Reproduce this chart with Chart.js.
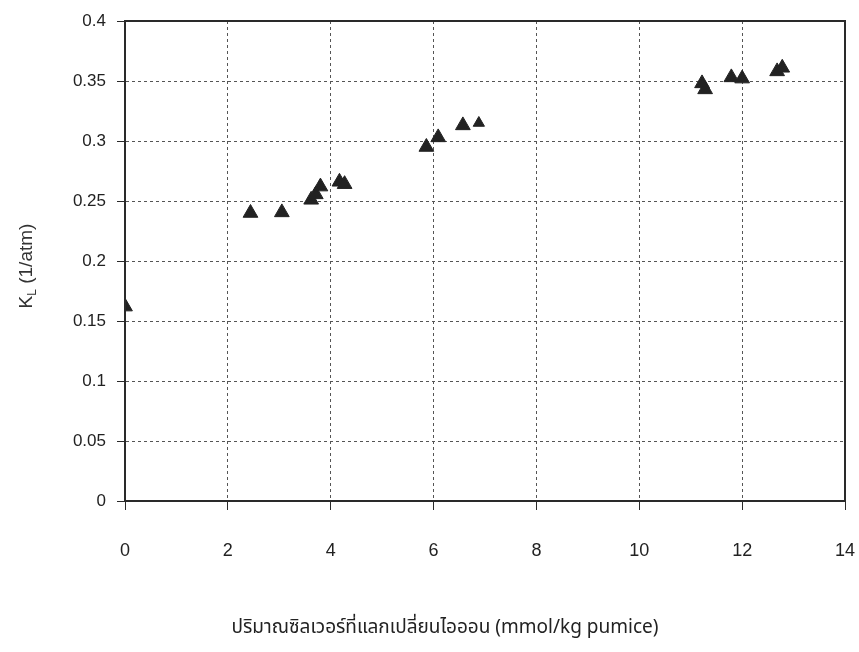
<!DOCTYPE html>
<html>
<head>
<meta charset="utf-8">
<script src="https://cdn.jsdelivr.net/npm/chart.js@4.4.1/dist/chart.umd.min.js"></script>
<style>
  body { margin: 0; background: #fff; }
  canvas { display: block; }
</style>
</head>
<body>
<canvas id="klChart" width="859" height="652"></canvas>
<script>
// silver exchanged (mmol/kg pumice) vs K_L (1/atm)
const silverLoad = [0, 2.44, 3.05, 3.62, 3.71, 3.8, 4.17, 4.27, 5.86, 6.09, 6.57, 6.88, 11.22, 11.28, 11.79, 12.0, 12.68, 12.78];
const kValues = [0.162, 0.24, 0.2405, 0.251, 0.2555, 0.262, 0.266, 0.264, 0.295, 0.303, 0.313, 0.315, 0.348, 0.343, 0.353, 0.352, 0.358, 0.361];

const xTicks = ['0', '2', '4', '6', '8', '10', '12', '14'];
const yTicks = ['0', '0.05', '0.1', '0.15', '0.2', '0.25', '0.3', '0.35', '0.4'];

const xTitle = 'ปริมาณซิลเวอร์ที่แลกเปลี่ยนไอออน (mmol/kg pumice)';

const labelFont = "'Liberation Sans Narrow', 'Liberation Sans', Arial, sans-serif";

const points = silverLoad.map((x, i) => ({ x: x, y: kValues[i] }));

// frame round the plot area plus the two axis titles
const framePlugin = {
    id: 'frame',
    afterDraw(chart) {
        const { ctx, chartArea: a } = chart;
        ctx.save();
        ctx.strokeStyle = '#2a2a2a';
        ctx.lineWidth = 2;
        ctx.strokeRect(a.left, a.top, a.right - a.left, a.bottom - a.top);

        // y title: K with subscript L
        ctx.translate(27, 266);
        ctx.rotate(-Math.PI / 2);
        ctx.fillStyle = '#333';
        ctx.textBaseline = 'middle';
        const big = "19px 'Liberation Sans', Arial, sans-serif";
        const small = "12px 'Liberation Sans', Arial, sans-serif";
        ctx.font = big;
        const wK = ctx.measureText('K').width;
        const rest = ' (1/atm)';
        const wRest = ctx.measureText(rest).width;
        ctx.font = small;
        const wL = ctx.measureText('L').width;
        let x = -(wK + wL + wRest) / 2;
        ctx.font = big;
        ctx.fillText('K', x, 0);
        x += wK;
        ctx.font = small;
        ctx.fillText('L', x, 6);
        x += wL;
        ctx.font = big;
        ctx.fillText(rest, x, 0);
        ctx.restore();

        // x title
        ctx.save();
        ctx.fillStyle = '#222';
        ctx.font = "19px 'Noto Sans Thai', 'Noto Sans', 'DejaVu Sans', sans-serif";
        ctx.textAlign = 'center';
        ctx.textBaseline = 'middle';
        ctx.fillText(xTitle, 445, 629);
        ctx.restore();
    }
};

new Chart(document.getElementById('klChart').getContext('2d'), {
    type: 'scatter',
    data: {
        datasets: [{
            data: points,
            pointStyle: 'triangle',
            pointRadius: kValues.map((v, i) => i === 11 ? 6.5 : 8.5),
            pointHoverRadius: 8.5,
            backgroundColor: '#222',
            borderColor: '#222',
            borderWidth: 1
        }]
    },
    options: {
        responsive: false,
        animation: false,
        layout: { padding: { left: 0, top: 21, right: 14, bottom: 0 } },
        plugins: {
            legend: { display: false },
            tooltip: { enabled: false }
        },
        scales: {
            x: {
                type: 'linear',
                min: 0,
                max: 14,
                afterFit(scale) {
                    scale.height = 151;
                    scale.paddingLeft = 0;
                    scale.paddingRight = 0;
                },
                ticks: {
                    stepSize: 2,
                    padding: 30,
                    color: '#222',
                    font: { family: labelFont, size: 18 },
                    callback: (v) => xTicks[Math.round(v / 2)]
                },
                grid: {
                    color: '#555',
                    lineWidth: 1,
                    tickLength: 9,
                    tickColor: '#2a2a2a',
                    tickWidth: 1
                },
                border: { display: true, color: '#2a2a2a', width: 2, dash: [3, 3] }
            },
            y: {
                type: 'linear',
                min: 0,
                max: 0.4,
                afterFit(scale) {
                    scale.width = 125;
                    scale.paddingTop = 0;
                    scale.paddingBottom = 0;
                },
                ticks: {
                    stepSize: 0.05,
                    padding: 11,
                    color: '#222',
                    font: { family: labelFont, size: 17 },
                    callback: (v) => yTicks[Math.round(v / 0.05)]
                },
                grid: {
                    color: '#555',
                    lineWidth: 1,
                    tickLength: 8,
                    tickColor: '#2a2a2a',
                    tickWidth: 1
                },
                border: { display: true, color: '#2a2a2a', width: 2, dash: [3, 3] }
            }
        }
    },
    plugins: [framePlugin]
});
</script>
</body>
</html>
